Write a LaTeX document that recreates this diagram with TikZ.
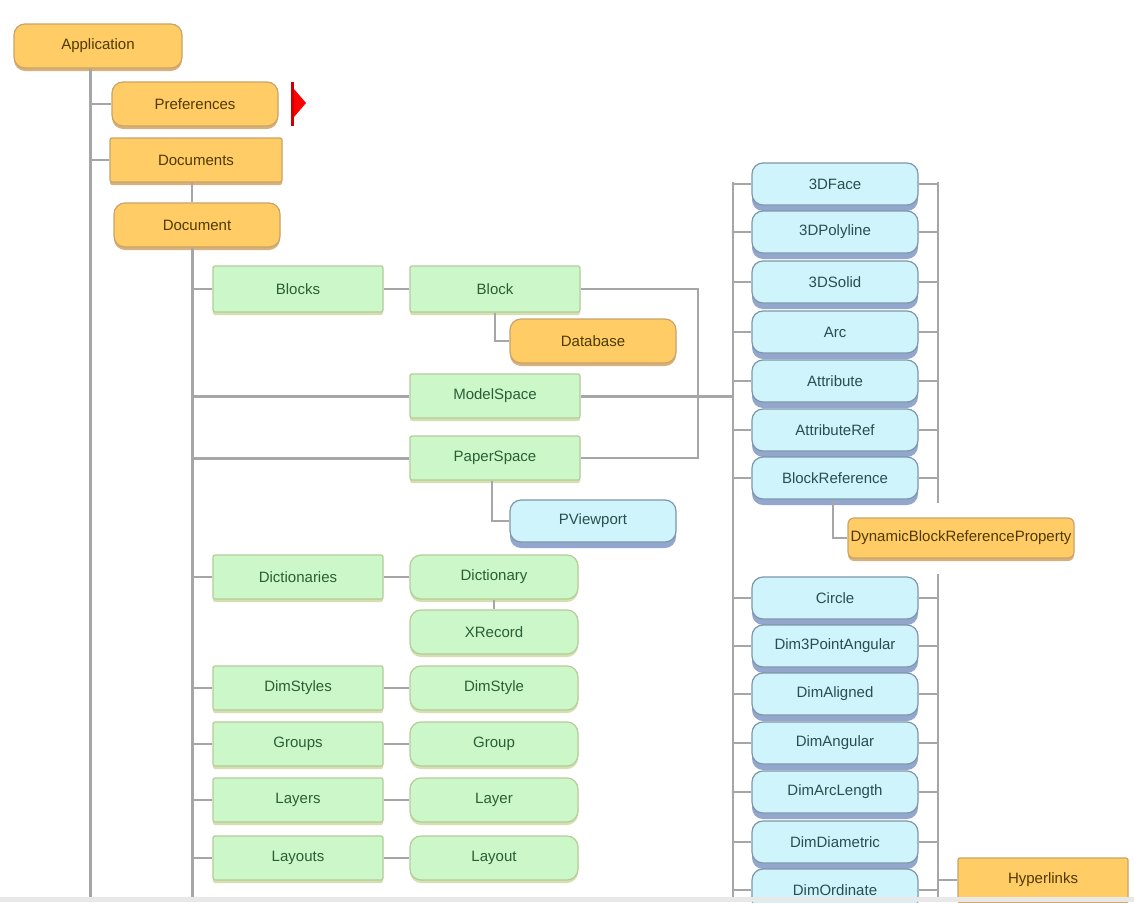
\documentclass[tikz,border=0pt]{standalone}
\usepackage{fontspec}
\newfontfamily\boxfont{Liberation Sans}
\usetikzlibrary{shadows}
\definecolor{orfill}{HTML}{FFCC66}
\definecolor{ordraw}{HTML}{C9A46A}
\definecolor{ortext}{HTML}{4F3A00}
\definecolor{orshade}{HTML}{D8B07C}
\definecolor{grfill}{HTML}{CCF7C8}
\definecolor{grdraw}{HTML}{B4CC98}
\definecolor{grtext}{HTML}{2A5E36}
\definecolor{grshade}{HTML}{D6DFB0}
\definecolor{blfill}{HTML}{CFF4FB}
\definecolor{bldraw}{HTML}{7E97A8}
\definecolor{bltext}{HTML}{284F50}
\definecolor{blshade}{HTML}{93A6CE}
\definecolor{wire}{HTML}{A6A6A6}
\tikzset{
  obj/.style={minimum height=44pt, inner sep=0pt, font=\boxfont\fontsize{15}{17}\selectfont, line width=1.2pt},
  orobj/.style={obj, fill=orfill, draw=ordraw, text=ortext, general shadow={fill=orshade, shadow yshift=-3pt}},
  grobj/.style={obj, fill=grfill, draw=grdraw, text=grtext, general shadow={fill=grshade, shadow yshift=-3pt}},
  blobj/.style={obj, fill=blfill, draw=bldraw, text=bltext, minimum height=42pt, general shadow={fill=blshade, shadow yshift=-6pt}},
  item/.style={rounded corners=11pt},
  coll/.style={rounded corners=2pt},
  trunk/.style={draw=wire, line width=3pt},
  branch/.style={draw=wire, line width=2.2pt}
}
\begin{document}
\begin{tikzpicture}[x=1pt, y=-1pt]
\fill[white] (0,0) rectangle (1134,902);
\clip (0,0) rectangle (1134,902);
\coordinate (appEnd) at (90,902);
\coordinate (docEnd) at (192,902);
\coordinate (bracket) at (698,289);
\coordinate (entTop) at (733,182);
\coordinate (entEnd) at (733,902);
\coordinate (entRTop) at (938,182);
\coordinate (entRMid) at (938,503);
\coordinate (entRLow) at (938,574);
\coordinate (entREnd) at (938,902);

\node[orobj, item, minimum width=168pt] (app) at (98,46) {Application};
\node[orobj, item, minimum width=166pt] (pref) at (195,104) {Preferences};
\node[orobj, coll, minimum width=172pt] (docs) at (196,160) {Documents};
\node[orobj, item, minimum width=166pt] (doc) at (197,225) {Document};

\node[grobj, coll, minimum width=170pt, minimum height=46pt] (blocks) at (298,289) {Blocks};
\node[grobj, coll, minimum width=170pt, minimum height=46pt] (block) at (495,289) {Block};
\node[orobj, item, minimum width=166pt] (db) at (593,341) {Database};
\node[grobj, coll, minimum width=170pt] (ms) at (495,396) {ModelSpace};
\node[grobj, coll, minimum width=170pt] (ps) at (495,458) {PaperSpace};
\node[blobj, item, minimum width=166pt] (pvp) at (593,521) {PViewport};

\node[grobj, coll, minimum width=170pt] (dicts) at (298,577) {Dictionaries};
\node[grobj, item, minimum width=168pt] (dict) at (494,577) {Dictionary};
\node[grobj, item, minimum width=168pt] (xrec) at (494,632) {XRecord};
\node[grobj, coll, minimum width=170pt] (dimss) at (298,688) {DimStyles};
\node[grobj, item, minimum width=168pt] (dims) at (494,688) {DimStyle};
\node[grobj, coll, minimum width=170pt] (groups) at (298,744) {Groups};
\node[grobj, item, minimum width=168pt] (group) at (494,744) {Group};
\node[grobj, coll, minimum width=170pt] (layers) at (298,800) {Layers};
\node[grobj, item, minimum width=168pt] (layer) at (494,800) {Layer};
\node[grobj, coll, minimum width=170pt] (layouts) at (298,858) {Layouts};
\node[grobj, item, minimum width=168pt] (layout) at (494,858) {Layout};

\node[blobj, item, minimum width=166pt] (face) at (835,184) {3DFace};
\node[blobj, item, minimum width=166pt] (poly) at (835,232) {3DPolyline};
\node[blobj, item, minimum width=166pt] (solid) at (835,282) {3DSolid};
\node[blobj, item, minimum width=166pt] (arc) at (835,332) {Arc};
\node[blobj, item, minimum width=166pt] (attr) at (835,381) {Attribute};
\node[blobj, item, minimum width=166pt] (attrref) at (835,430) {AttributeRef};
\node[blobj, item, minimum width=166pt] (blkref) at (835,478) {BlockReference};
\node[orobj, item, rounded corners=6pt, minimum width=226pt, minimum height=40pt] (dynprop) at (961,538) {DynamicBlockReferenceProperty};
\node[blobj, item, minimum width=166pt] (circle) at (835,598) {Circle};
\node[blobj, item, minimum width=166pt] (dimtpa) at (835,646) {Dim3PointAngular};
\node[blobj, item, minimum width=166pt] (dimal) at (835,694) {DimAligned};
\node[blobj, item, minimum width=166pt] (diman) at (835,743) {DimAngular};
\node[blobj, item, minimum width=166pt] (dimarc) at (835,792) {DimArcLength};
\node[blobj, item, minimum width=166pt] (dimdia) at (835,842) {DimDiametric};
\node[blobj, item, minimum width=166pt] (dimord) at (835,890) {DimOrdinate};
\node[orobj, coll, minimum width=170pt] (hyper) at (1043,880) {Hyperlinks};

\draw[trunk] (app.south -| appEnd) -- (appEnd);
\draw[branch] (pref.west -| appEnd) -- (pref.west);
\draw[branch] (docs.west -| appEnd) -- (docs.west);
\draw[branch] (docs.south -| docEnd) -- (doc.north -| docEnd);
\draw[trunk] (doc.south -| docEnd) -- (docEnd);
\foreach \n in {blocks, dicts, dimss, groups, layers, layouts}
  \draw[branch] (\n.west -| docEnd) -- (\n.west);
\draw[trunk] (ms.west -| docEnd) -- (ms.west);
\draw[trunk] (ps.west -| docEnd) -- (ps.west);
\draw[trunk] (ms.east) -- (ms.east -| entEnd);
\draw[branch] (blocks) -- (block);
\draw[branch] (block.east) -- (bracket) |- (ps.east);
\draw[branch] (block.south) |- (db.west);
\draw[branch] (ps.south) ++(-3,0) |- (pvp.west);
\draw[branch] (dict) -- (xrec);
\draw[branch] (dicts) -- (dict);
\draw[branch] (dimss) -- (dims);
\draw[branch] (groups) -- (group);
\draw[branch] (layers) -- (layer);
\draw[branch] (layouts) -- (layout);

\draw[branch] (entTop) -- (entEnd);
\draw[branch] (entRTop) -- (entRMid);
\draw[branch] (entRLow) -- (entREnd);
\foreach \n in {face, poly, solid, arc, attr, attrref, blkref, circle, dimtpa, dimal, diman, dimarc, dimdia, dimord} {
  \draw[branch] (\n.west -| entEnd) -- (\n.west);
  \draw[branch] (\n.east) -- (\n.east -| entREnd);
}
\draw[branch] (blkref.south) ++(-2,0) |- (dynprop.west);
\draw[branch] (hyper.west -| entREnd) -- (hyper.west);

\fill[red!80!black] (291,82) rectangle (294,126);
\fill[red] (294,89) -- (306,103) -- (294,117) -- cycle;
\fill[black!9] (0,897) rectangle (1134,902);
\end{tikzpicture}
\end{document}
